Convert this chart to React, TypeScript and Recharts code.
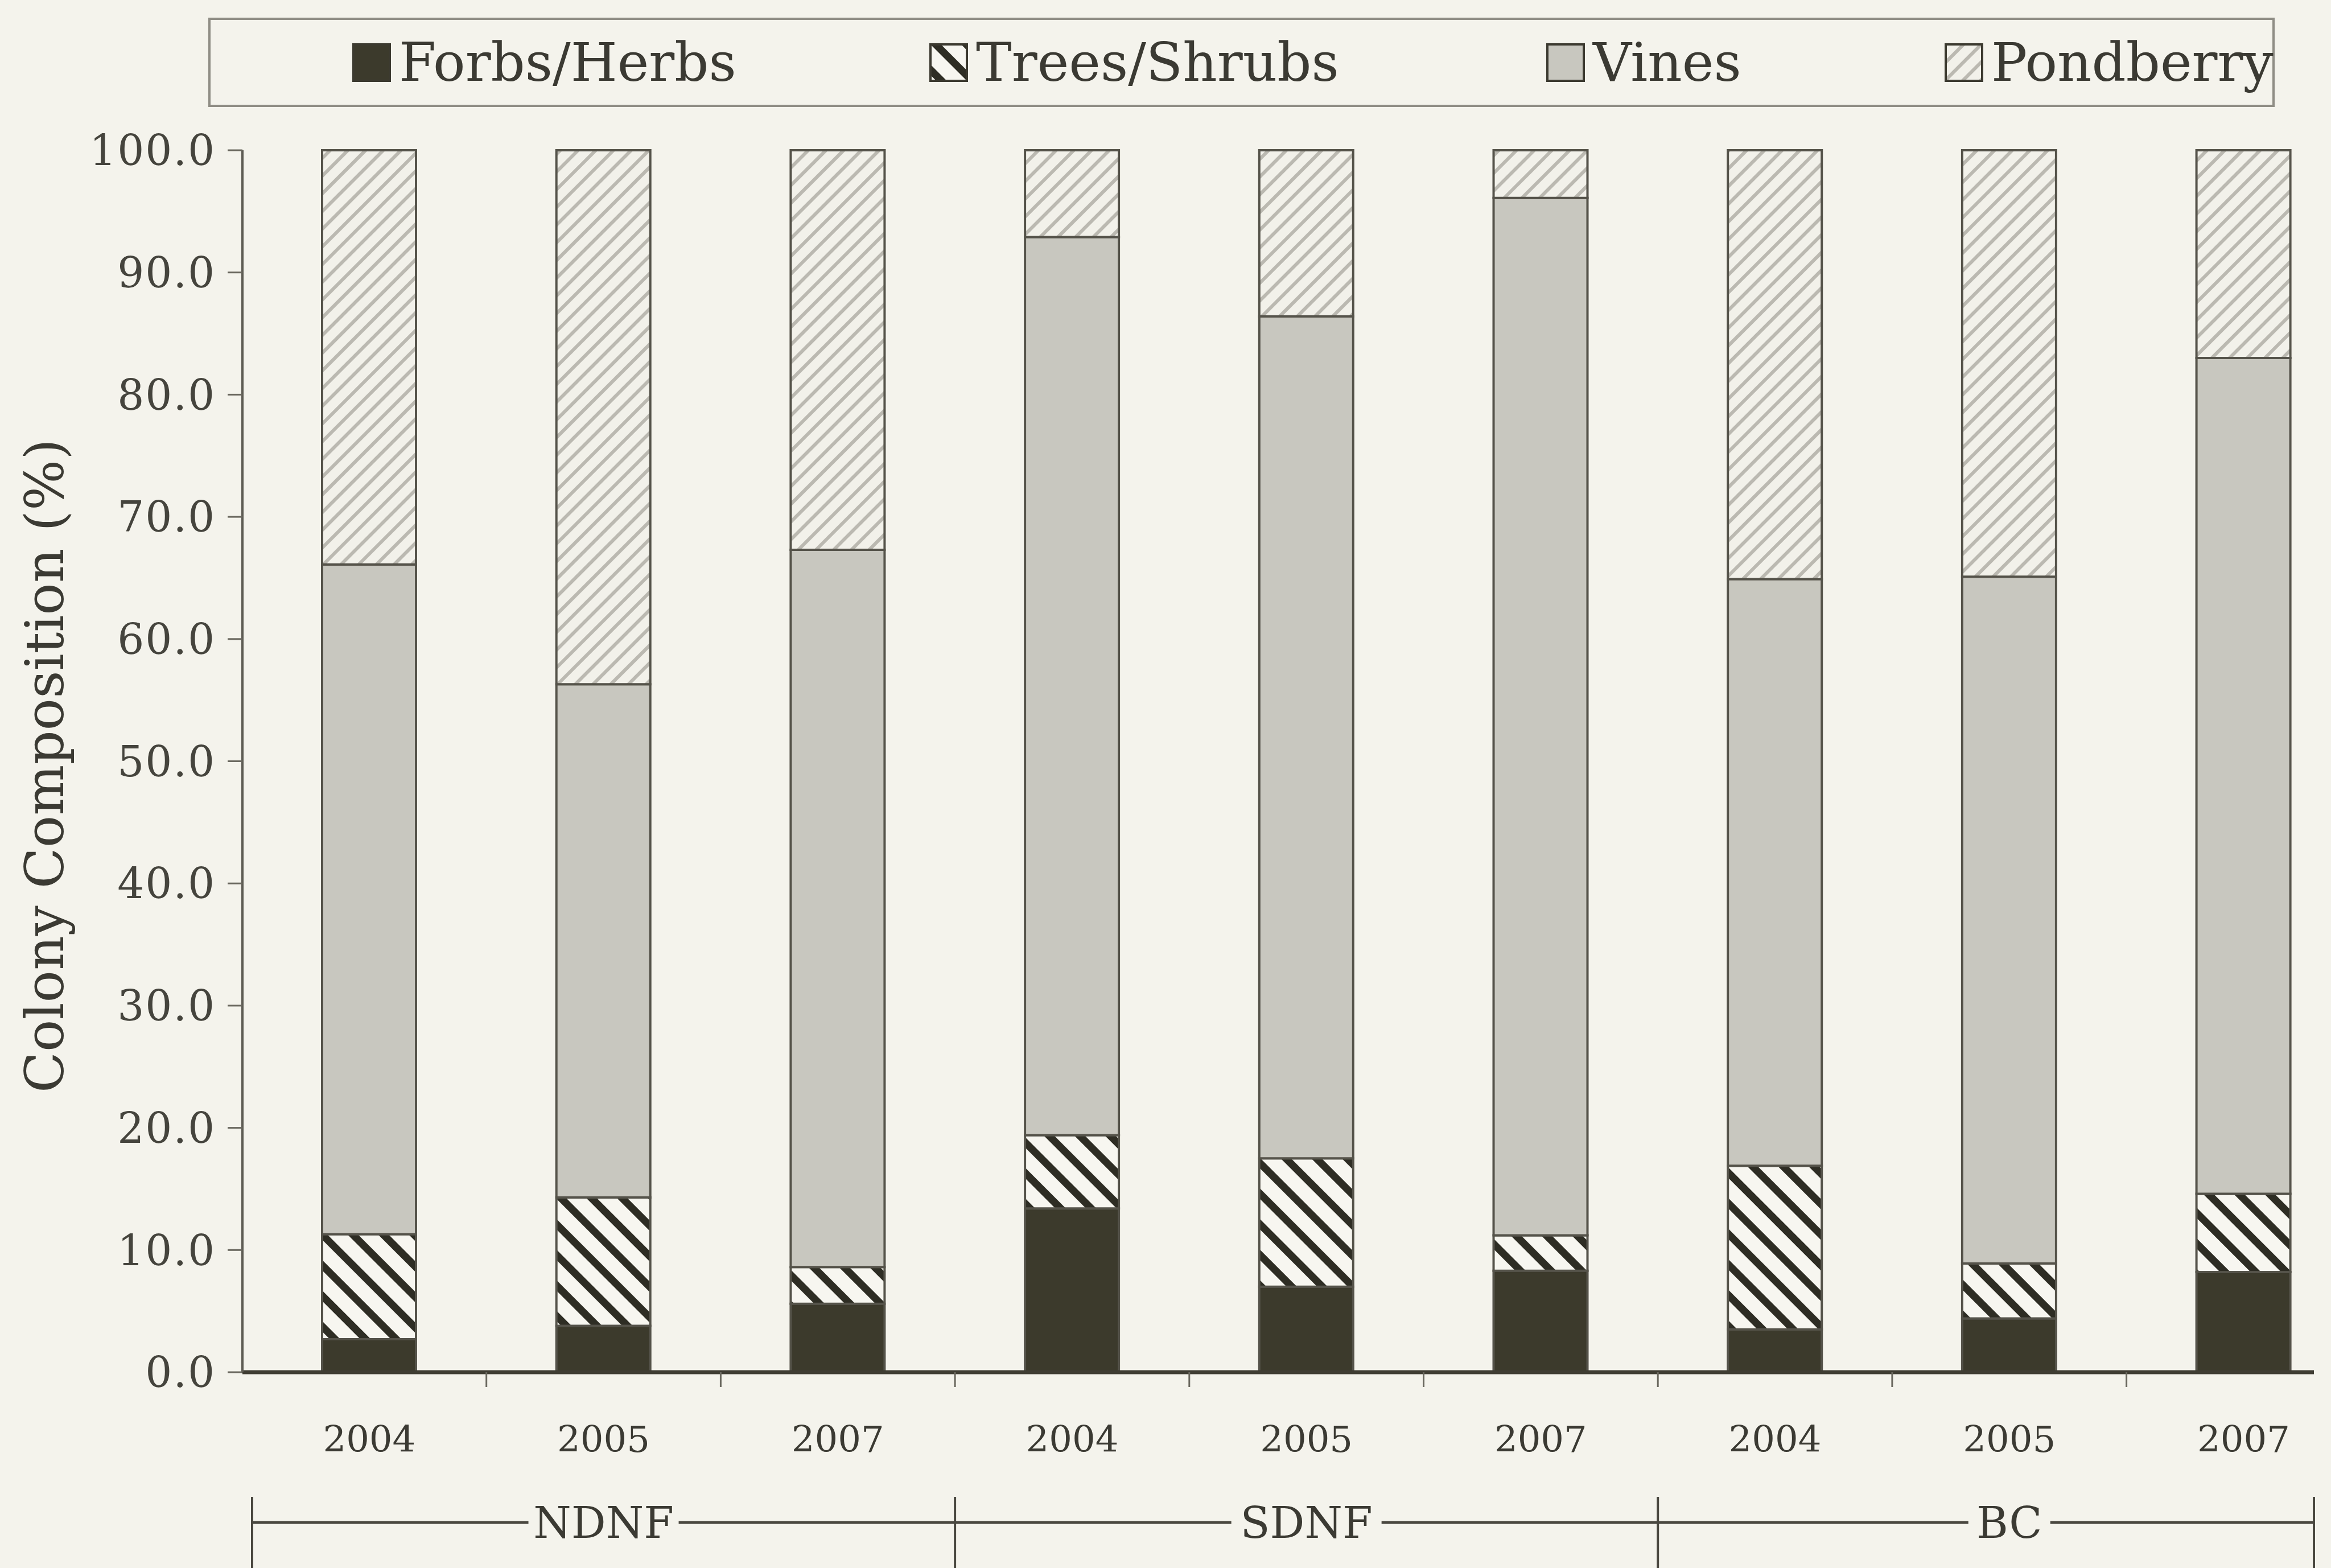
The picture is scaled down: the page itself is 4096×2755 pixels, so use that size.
import { Bar, BarChart, XAxis, YAxis } from 'recharts'

const years = ['2004', '2005', '2007', '2004', '2005', '2007', '2004', '2005', '2007']
const sites = ['NDNF', 'NDNF', 'NDNF', 'SDNF', 'SDNF', 'SDNF', 'BC', 'BC', 'BC']
const forbs = [2.7, 3.8, 5.6, 13.4, 7.0, 8.3, 3.5, 4.4, 8.2]
const trees = [8.6, 10.5, 3.0, 6.0, 10.5, 2.9, 13.4, 4.5, 6.4]
const vines = [54.8, 42.0, 58.7, 73.5, 68.9, 84.9, 48.0, 56.2, 68.4]
const pondberry = [33.9, 43.7, 32.7, 7.1, 13.6, 3.9, 35.1, 34.9, 17.0]
const yTicks = [0, 10, 20, 30, 40, 50, 60, 70, 80, 90, 100]

const data = years.map((year, i) => ({
  year,
  site: sites[i],
  forbs: forbs[i],
  trees: trees[i],
  vines: vines[i],
  pondberry: pondberry[i],
}))

const W = 4096
const H = 2755
const Y_AXIS_W = 426
const RIGHT = 30
const PLOT_W = W - Y_AXIS_W - RIGHT
const PLOT_RIGHT = W - RIGHT
// the printed page is a little curved, so the category bands run slightly past the frame
const BAND = 411.7
const PAD_LEFT = 17
const PAD_RIGHT = PLOT_W - PAD_LEFT - BAND * years.length
const GROUP_BAND = BAND * 3

const BG = '#f4f3ec'
const INK = '#3b3a33'
const FONT = '"DejaVu Serif", serif'

const legendItems = [
  { key: 'forbs', label: 'Forbs/Herbs', fill: '#3c3a2c', left: 619 },
  { key: 'trees', label: 'Trees/Shrubs', fill: 'url(#treesHatch)', left: 1633 },
  { key: 'vines', label: 'Vines', fill: '#c8c7bf', left: 2717 },
  { key: 'pond', label: 'Pondberry', fill: 'url(#pondHatch)', left: 3417 },
]

function YearTick({ x, y, payload, index }: any) {
  const edge = x - BAND / 2
  return (
    <g>
      {index > 0 ? <line x1={edge} x2={edge} y1={y} y2={y + 26} stroke="#6a685f" strokeWidth={3} /> : null}
      <text x={x} y={y + 140} textAnchor="middle" fontFamily={FONT} fontSize={64} fill={INK}>
        {payload.value}
      </text>
    </g>
  )
}

function GroupTick({ x, y, payload, index }: any) {
  const left = x - GROUP_BAND / 2
  const right = Math.min(x + GROUP_BAND / 2, PLOT_RIGHT)
  const gap = String(payload.value).length * 30 + 12
  const lineY = y + 84
  return (
    <g stroke="#4a4840" strokeWidth={5}>
      <line x1={left} x2={x - gap} y1={lineY} y2={lineY} />
      <line x1={x + gap} x2={right} y1={lineY} y2={lineY} />
      <line x1={left} x2={left} y1={y + 39} y2={y + 164} strokeWidth={4} />
      {index === 2 ? <line x1={right} x2={right} y1={y + 39} y2={y + 164} strokeWidth={4} /> : null}
      <text x={x} y={y + 111} textAnchor="middle" fontFamily={FONT} fontSize={76} fill={INK} stroke="none">
        {payload.value}
      </text>
    </g>
  )
}

function YLabel({ viewBox }: any) {
  const cy = viewBox.y + viewBox.height / 2 + 8
  return (
    <text
      x={78}
      y={cy}
      transform={`rotate(-90, 78, ${cy})`}
      textAnchor="middle"
      dominantBaseline="central"
      fontFamily={FONT}
      fontSize={94}
      fill={INK}
    >
      Colony Composition (%)
    </text>
  )
}

function Patterns() {
  return (
    <svg width={0} height={0} style={{ position: 'absolute' }}>
      <defs>
        <pattern id="treesHatch" patternUnits="userSpaceOnUse" width={38} height={38} patternTransform="rotate(-45)">
          <rect width={38} height={38} fill="#f7f6f0" />
          <rect width={13} height={38} fill="#2e2d24" />
        </pattern>
        <pattern id="pondHatch" patternUnits="userSpaceOnUse" width={22} height={22} patternTransform="rotate(45)">
          <rect width={22} height={22} fill="#f2f1ea" />
          <rect width={6} height={22} fill="#bbb9b1" />
        </pattern>
      </defs>
    </svg>
  )
}

function Legend() {
  return (
    <div
      style={{
        position: 'absolute',
        left: 366,
        top: 31,
        width: 3631,
        height: 157,
        border: '4px solid #8f8d85',
        boxSizing: 'border-box',
      }}
    >
      {legendItems.map((item) => (
        <div
          key={item.key}
          style={{
            position: 'absolute',
            left: item.left - 370,
            top: 0,
            height: 149,
            display: 'flex',
            alignItems: 'center',
            gap: 14,
          }}
        >
          <svg width={68} height={68}>
            <rect x={2} y={2} width={64} height={64} fill={item.fill} stroke="#3c3a30" strokeWidth={4} />
          </svg>
          <span style={{ fontFamily: FONT, fontSize: 94, color: INK, lineHeight: 1 }}>{item.label}</span>
        </div>
      ))}
    </div>
  )
}

export default function App() {
  const barStroke = { stroke: '#55534a', strokeWidth: 4 }
  const padding = { left: PAD_LEFT, right: PAD_RIGHT }
  return (
    <div style={{ position: 'absolute', left: 0, top: 0, width: W, height: H, background: BG, overflow: 'hidden' }}>
      <Patterns />
      <Legend />
      <BarChart width={W} height={H} data={data} margin={{ top: 264, right: RIGHT, left: 0, bottom: 0 }} barSize={165}>
        <XAxis
          dataKey="year"
          height={180}
          padding={padding}
          tickSize={0}
          tickMargin={0}
          tickLine={false}
          axisLine={{ stroke: '#3f3d33', strokeWidth: 7 }}
          tick={<YearTick />}
          interval={0}
        />
        <XAxis
          xAxisId="site"
          dataKey="site"
          allowDuplicatedCategory={false}
          height={H - 2411 - 180}
          padding={padding}
          tickSize={0}
          tickMargin={0}
          tickLine={false}
          axisLine={false}
          tick={<GroupTick />}
          interval={0}
        />
        <XAxis
          xAxisId="top"
          orientation="top"
          dataKey="year"
          height={0}
          tick={false}
          tickLine={false}
          axisLine={{ stroke: '#77756d', strokeWidth: 3 }}
        />
        <YAxis
          width={Y_AXIS_W}
          domain={[0, 100]}
          ticks={yTicks}
          interval={0}
          tickFormatter={(v: number) => v.toFixed(1)}
          tickSize={26}
          tickMargin={21}
          tickLine={{ stroke: '#6a685f', strokeWidth: 3 }}
          axisLine={{ stroke: '#5d5b53', strokeWidth: 4 }}
          tick={{ fontFamily: FONT, fontSize: 74, fill: '#45443d', letterSpacing: 2 }}
          label={<YLabel />}
        />
        <YAxis
          yAxisId="right"
          orientation="right"
          width={0}
          tick={false}
          tickLine={false}
          axisLine={{ stroke: '#8a887f', strokeWidth: 3 }}
        />
        <Bar dataKey="forbs" stackId="s" fill="#3c3a2c" {...barStroke} isAnimationActive={false} />
        <Bar dataKey="trees" stackId="s" fill="url(#treesHatch)" {...barStroke} isAnimationActive={false} />
        <Bar dataKey="vines" stackId="s" fill="#c8c7bf" {...barStroke} isAnimationActive={false} />
        <Bar dataKey="pondberry" stackId="s" fill="url(#pondHatch)" {...barStroke} isAnimationActive={false} />
      </BarChart>
    </div>
  )
}
